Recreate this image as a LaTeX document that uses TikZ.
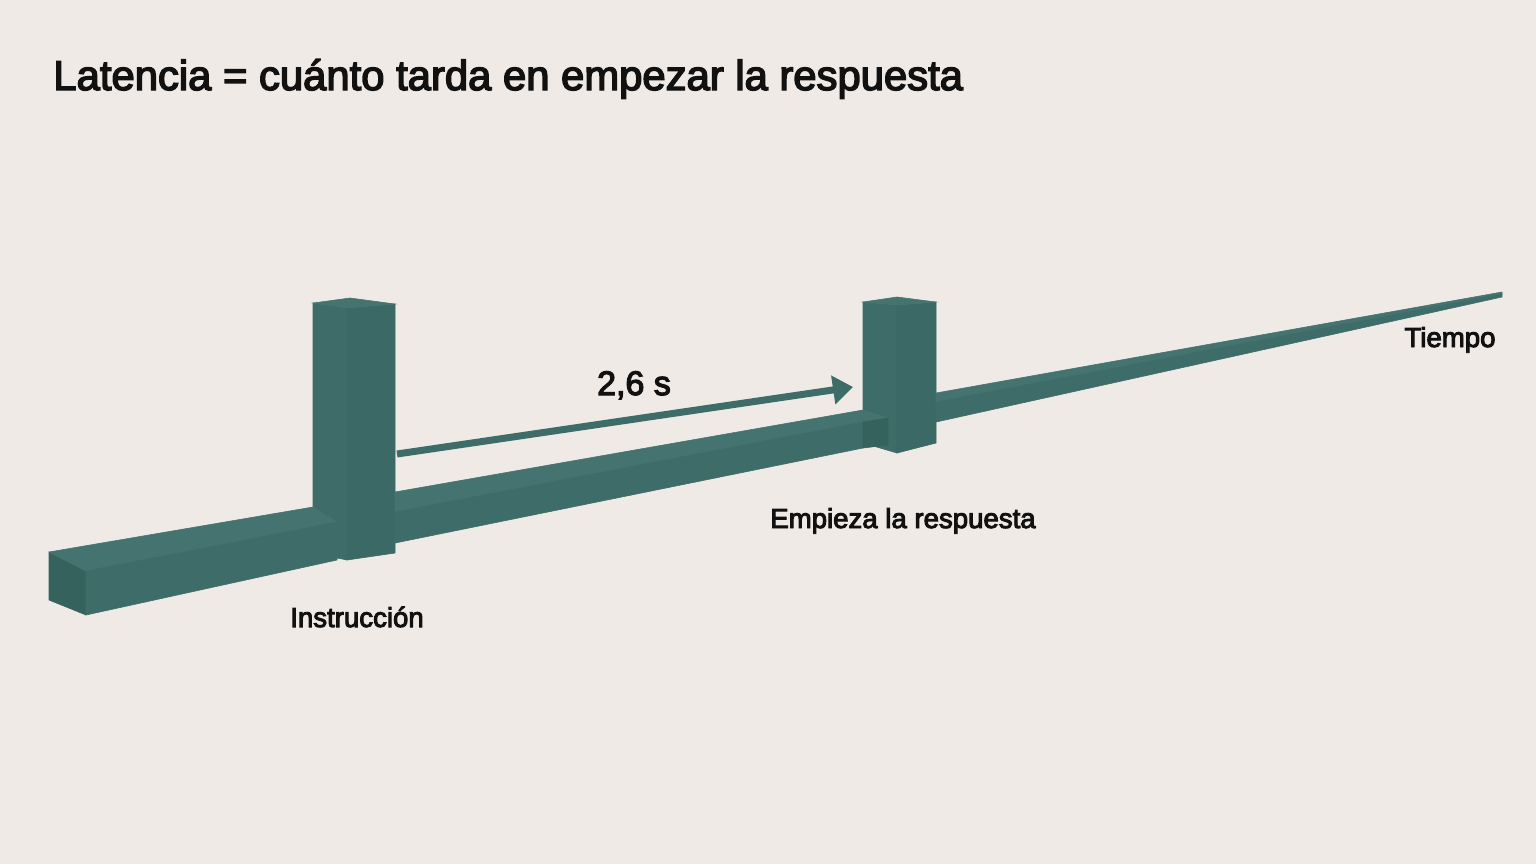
\documentclass[tikz,border=0pt]{standalone}
\usepackage{fontspec}
\setmainfont{Liberation Sans}
\newfontfamily\labfont[FakeBold=3.5]{Liberation Sans}
\usepackage{xcolor}
\usetikzlibrary{arrows.meta,calc}
\definecolor{paper}{HTML}{F0EAE6}
\definecolor{tealfront}{HTML}{3E6D69}
\definecolor{tealside}{HTML}{3B6965}
\definecolor{tealtop}{HTML}{457470}
\definecolor{tealend}{HTML}{36625E}
\definecolor{ink}{HTML}{111111}

\begin{document}
\begin{tikzpicture}[x=0.5pt,y=-0.5pt,
    front/.style={fill=tealfront,draw=tealfront,line width=0.3pt},side/.style={fill=tealside,draw=tealside,line width=0.3pt},
    top/.style={fill=tealtop,draw=tealtop,line width=0.3pt},endcap/.style={fill=tealend,draw=tealend,line width=0.3pt},
    lbl/.style={font=\labfont\fontsize{13.8}{16}\selectfont,text=ink,inner sep=0pt}]
      \fill[paper](0,0)rectangle(1536,864);
      \useasboundingbox(0,0)rectangle(1536,864);
      \node[anchor=base west,inner sep=0pt,text=ink,font=\labfont\fontsize{20.9}{25}\selectfont](title)at(53,90){Latencia = cuánto tarda en empezar la respuesta};
      % first post and bar in front of it
      \filldraw[front](313,303)--(347,308)--(347,560)--(313,553)--cycle;
      \filldraw[side](347,308)--(395,304)--(395,553)--(347,560)--cycle;
      \filldraw[top](313,303)--(350,298)--(395,304)--(347,308)--cycle;
      \filldraw[endcap](49,552)--(86,571)--(86,615)--(49,600)--cycle;
      \filldraw[top](49,552)--(313,507)--(337,522)--(86,571)--cycle;
      \filldraw[front](86,571)--(337,522)--(337,560)--(86,615)--cycle;
      % second post
      \filldraw[front](863,302)--(897,305)--(897,453)--(863,443)--cycle;
      \filldraw[side](897,305)--(936,302)--(936,443)--(897,453)--cycle;
      \filldraw[top](863,302)--(897,297)--(936,302)--(897,305)--cycle;
      \filldraw[top](395,492)--(863,410)--(888,418)--(863,422)--(395,512)--cycle;
      \filldraw[front](395,512)--(863,422)--(863,448)--(395,543)--cycle;
      \filldraw[endcap](863,422)--(888,418)--(888,445)--(863,448)--cycle;
      % time axis
      \filldraw[top](936,393)--(1502,292)--(1502,294)--(936,402)--cycle;
      \filldraw[front](936,402)--(1502,294)--(1502,297)--(936,422)--cycle;
      \coordinate(arrS)at(397,454);
      \coordinate(arrE)at(853,387);
      \draw[tealfront,line width=3.5pt,-{Triangle[length=10pt,width=14pt]}](arrS)--(arrE);
      \node[lbl,anchor=base,font=\labfont\fontsize{17}{20}\selectfont](delay)at(634,395){2,6 s};
      \node[lbl,anchor=base](inst)at(357,627){Instrucción};
      \node[lbl,anchor=base](resp)at(903,528){Empieza la respuesta};
      \node[lbl,anchor=base](tiempo)at(1450,347){Tiempo};
    \end{tikzpicture}
\end{document}
